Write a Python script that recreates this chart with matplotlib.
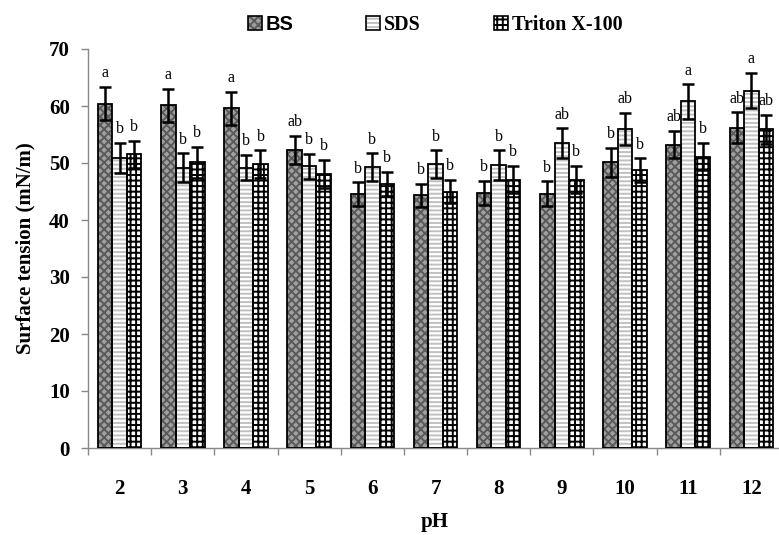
import numpy as np
import matplotlib
matplotlib.use("Agg")
import matplotlib.pyplot as plt
from matplotlib.patches import Patch

# ==========================================================
# DATA
# ==========================================================
ph_labels = ["2", "3", "4", "5", "6", "7", "8", "9", "10", "11", "12"]

bs_mean = [60.4, 60.1, 59.6, 52.3, 44.5, 44.3, 44.8, 44.6, 50.1, 53.2, 56.2]
sds_mean = [50.9, 49.2, 49.2, 49.4, 49.3, 49.8, 49.6, 53.5, 56.0, 60.8, 62.7]
tx_mean = [51.5, 50.1, 49.8, 48.1, 46.3, 45.0, 47.1, 47.1, 48.7, 51.1, 55.9]

bs_err = [2.9, 2.9, 2.9, 2.4, 2.1, 2.1, 2.1, 2.2, 2.5, 2.4, 2.7]
sds_err = [2.6, 2.5, 2.2, 2.2, 2.4, 2.4, 2.6, 2.6, 2.8, 3.0, 3.1]
tx_err = [2.4, 2.7, 2.4, 2.4, 2.1, 2.0, 2.4, 2.4, 2.1, 2.4, 2.6]

bs_letters = ["a", "a", "a", "ab", "b", "b", "b", "b", "b", "ab", "ab"]
sds_letters = ["b", "b", "b", "b", "b", "b", "b", "ab", "ab", "a", "a"]
tx_letters = ["b", "b", "b", "b", "b", "b", "b", "b", "b", "b", "ab"]

# ==========================================================
# STYLE
# ==========================================================
serif = "Liberation Serif"
plt.rcParams["hatch.linewidth"] = 1.4

series = [
    ("BS", bs_mean, bs_err, bs_letters, "#a0a0a0", "xxxx", "#5a5a5a"),
    ("SDS", sds_mean, sds_err, sds_letters, "white", "----", "#c0c0c0"),
    ("Triton X-100", tx_mean, tx_err, tx_letters, "white", "+++", "black"),
]

fig = plt.figure(figsize=(7.79, 5.35), dpi=100)
ax = fig.add_axes([88 / 779, 87 / 535, 695 / 779, 399 / 535])

x = np.arange(len(ph_labels))
width = 0.23
offsets = [-width, 0, width]

legend_handles = []
for (name, mean, err, letters, fc, hatch, hc), off in zip(series, offsets):
    pos = x + off
    # hatched fill first, then a black outline on top
    ax.bar(pos, mean, width, color=fc, hatch=hatch, edgecolor=hc, linewidth=0, zorder=2)
    ax.bar(pos, mean, width, facecolor="none", edgecolor="black", linewidth=1.3, zorder=3)
    ax.errorbar(pos, mean, yerr=err, fmt="none", ecolor="black", elinewidth=1.8,
                capsize=4, capthick=1.8, zorder=4)
    for xi, m, e, lab in zip(pos, mean, err, letters):
        ax.annotate(lab, (xi, m + e), xytext=(0, 7), textcoords="offset points",
                    ha="center", va="baseline", fontsize=11.5, family=serif)
    legend_handles.append((
        Patch(facecolor=fc, hatch=hatch, edgecolor=hc, linewidth=0),
        Patch(facecolor="none", edgecolor="black", linewidth=1.2),
    ))

# ==========================================================
# AXES
# ==========================================================
ax.set_xlim(-0.5, len(ph_labels) - 0.5)
ax.set_ylim(0, 70)
ax.set_yticks(range(0, 71, 10))
ax.set_xticks(x)
ax.set_xticklabels(ph_labels)
ax.set_xticks(np.arange(-0.5, len(ph_labels), 1), minor=True)
ax.tick_params(axis="x", which="major", length=0, pad=22)
ax.tick_params(axis="x", which="minor", length=5, width=1, color="#888888", direction="out")
ax.tick_params(axis="y", length=5, width=1, color="#888888", pad=8)

for lab in ax.get_xticklabels() + ax.get_yticklabels():
    lab.set_family(serif)
    lab.set_fontweight("bold")
    lab.set_fontsize(15)

for s in ["top", "right"]:
    ax.spines[s].set_visible(False)
for s in ["left", "bottom"]:
    ax.spines[s].set_color("#888888")
    ax.spines[s].set_linewidth(1)

ax.set_ylabel("Surface tension (mN/m)", family=serif, fontweight="bold", fontsize=15, labelpad=10)
fig.text(435 / 779, 1 - 522 / 535, "pH", family=serif, fontweight="bold", fontsize=15,
         ha="center", va="center")

leg = fig.legend(legend_handles, [s[0] for s in series], loc="center",
                 bbox_to_anchor=(435 / 779, 1 - 25 / 535), ncol=3, frameon=False,
                 prop={"family": serif, "weight": "bold", "size": 14.5},
                 handlelength=0.7, handleheight=0.7, handletextpad=0.2, columnspacing=3.6)
leg.get_texts()[0].set_family("Liberation Sans")

fig.savefig("out.png", dpi=100)
